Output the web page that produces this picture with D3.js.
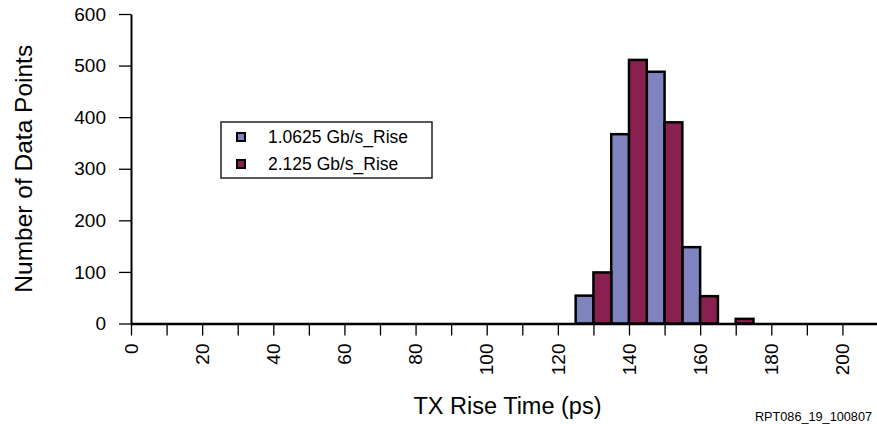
<!DOCTYPE html>
<html>
<head>
<meta charset="utf-8">
<script src="https://cdn.jsdelivr.net/npm/d3@7"></script>
<style>
  html, body { margin: 0; padding: 0; background: #fff; }
  svg { display: block; font-family: "Liberation Sans", Arial, Helvetica, sans-serif; }
</style>
</head>
<body>
<svg id="chart" width="877" height="424"></svg>
<script>
// ---- data ----
const binCenters = [130, 140, 150, 160, 170];
const seriesNames = ["1.0625 Gb/s_Rise", "2.125 Gb/s_Rise"];
const rise1G = [54, 367, 488, 148, 0];
const rise2G = [99, 511, 390, 53, 9];
const xTickLabels = [0, 20, 40, 60, 80, 100, 120, 140, 160, 180, 200];
const xMinorTicks = d3.range(0, 211, 10);
const yTickLabels = [0, 100, 200, 300, 400, 500, 600];
const binWidth = 5;

const colors = ["#7F84BF", "#88214F"];

const svg = d3.select("#chart");
const x = d3.scaleLinear().domain([0, 210]).range([131, 878]);
const y = d3.scaleLinear().domain([0, 600]).range([323.5, 14]);

// bars
const series = [rise1G, rise2G];
series.forEach((vals, si) => {
  const data = binCenters.map((c, i) => ({c, v: vals[i]})).filter(d => d.v > 0);
  svg.append("g").selectAll("rect").data(data).join("rect")
    .attr("x", d => si === 0 ? x(d.c - binWidth) : x(d.c))
    .attr("width", d => x(d.c + binWidth) - x(d.c))
    .attr("y", d => y(d.v))
    .attr("height", d => y(0) - y(d.v))
    .attr("fill", colors[si])
    .attr("stroke", "#000")
    .attr("stroke-width", 2.5);
});

// y axis
const yAxis = svg.append("g").attr("transform", `translate(${x(0)},0)`)
  .call(d3.axisLeft(y).tickValues(yTickLabels).tickSize(12).tickSizeOuter(0).tickPadding(13));
yAxis.select(".domain").attr("stroke-width", 2);
yAxis.selectAll(".tick line").attr("stroke-width", 1.3);
yAxis.selectAll(".tick text").attr("font-size", 19).attr("fill", "#000")
  .attr("font-family", "Liberation Sans, Arial, sans-serif");

// x axis
const xAxis = svg.append("g").attr("transform", `translate(0,${y(0)})`)
  .call(d3.axisBottom(x).tickValues(xMinorTicks).tickSize(12).tickSizeOuter(0).tickFormat(""));
xAxis.select(".domain").attr("stroke-width", 2.5);
xAxis.selectAll(".tick line").attr("stroke-width", 1.3);

svg.append("g").selectAll("text").data(xTickLabels).join("text")
  .attr("transform", d => `translate(${x(d)},${y(0) + 20}) rotate(-90)`)
  .attr("text-anchor", "end")
  .attr("dy", "0.35em")
  .attr("font-size", 19)
  .text(d => d);

// axis titles
svg.append("text")
  .attr("x", (x(0) + x(210)) / 2 + 3)
  .attr("y", 414)
  .attr("text-anchor", "middle")
  .attr("font-size", 23.5)
  .text("TX Rise Time (ps)");

svg.append("text")
  .attr("transform", `translate(32,${(y(0) + y(600)) / 2}) rotate(-90)`)
  .attr("text-anchor", "middle")
  .attr("font-size", 24.5)
  .text("Number of Data Points");

svg.append("text")
  .attr("x", 872).attr("y", 421)
  .attr("text-anchor", "end")
  .attr("font-size", 12.7)
  .text("RPT086_19_100807");

// legend
const lg = svg.append("g");
lg.append("rect").attr("x", 221).attr("y", 122).attr("width", 211).attr("height", 56)
  .attr("fill", "#fff").attr("stroke", "#222").attr("stroke-width", 1.5);
seriesNames.forEach((name, i) => {
  lg.append("rect").attr("x", 237).attr("y", 133 + i * 27).attr("width", 8).attr("height", 8)
    .attr("fill", colors[i]).attr("stroke", "#000").attr("stroke-width", 2);
  lg.append("text").attr("x", 268).attr("y", 142.5 + i * 27.5)
    .attr("font-size", 17.5).text(name);
});
</script>
</body>
</html>
